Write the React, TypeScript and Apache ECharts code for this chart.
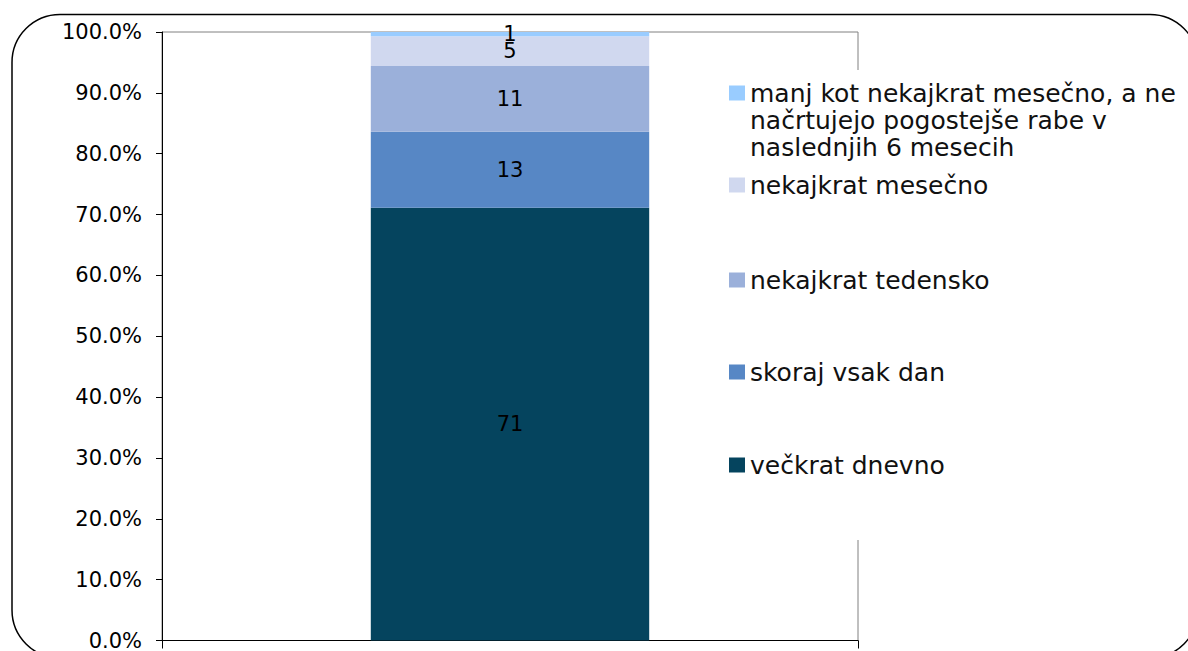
import { useEffect, useRef } from "react";
import * as echarts from "echarts";

const categories = [""];
const seriesNames = [
  "večkrat dnevno",
  "skoraj vsak dan",
  "nekajkrat tedensko",
  "nekajkrat mesečno",
  "manj kot nekajkrat mesečno, a ne načrtujejo pogostejše rabe v naslednjih 6 mesecih",
];
const seriesValues = [71.1, 12.5, 10.8, 4.9, 0.7];
const labelValues = [71, 13, 11, 5, 1];
const seriesColors = ["#05445E", "#5787C5", "#9BB0DA", "#D0D8EF", "#99CCFF"];
const legendLabels = [
  "večkrat dnevno",
  "skoraj vsak dan",
  "nekajkrat tedensko",
  "nekajkrat mesečno",
  "manj kot nekajkrat mesečno, a ne\nnačrtujejo pogostejše rabe v\nnaslednjih 6 mesecih",
];
const yMin = 0;
const yMax = 100;
const yInterval = 10;

const FONT = "DejaVu Sans";

export default function App() {
  const ref = useRef<HTMLDivElement>(null);
  useEffect(() => {
    if (!ref.current) return;
    const chart = echarts.init(ref.current, null, { renderer: "svg" });

    const legendOrder = [4, 3, 2, 1, 0];
    const legendTops = [25.5, 171.5, 266.5, 358.5, 451.5];

    const legends = legendOrder.map((idx, k) => {
      const lines = legendLabels[idx].split("\n");
      // pad with blank lines above so the marker sits beside the first line
      const text =
        lines.length > 1
          ? "\n".repeat(lines.length - 1) + legendLabels[idx]
          : legendLabels[idx];
      return {
        show: true,
        orient: "vertical",
        left: 729,
        top: legendTops[k],
        padding: 0,
        z: 20,
        selectedMode: false,
        icon: "rect",
        itemWidth: 16,
        itemHeight: 15,
        data: [seriesNames[idx]],
        formatter: () => text,
        textStyle: {
          fontFamily: FONT,
          fontSize: 25,
          lineHeight: 27,
          color: "#111",
        },
      };
    });

    chart.setOption({
      animation: false,
      backgroundColor: "#fff",
      grid: {
        left: 162,
        top: 32,
        right: 330,
        bottom: 10,
        show: true,
        borderColor: "#808080",
        borderWidth: 1,
        backgroundColor: "transparent",
      },
      legend: legends,
      xAxis: {
        type: "category",
        data: categories,
        boundaryGap: true,
        axisLine: { show: true, lineStyle: { color: "#000", width: 1 } },
        axisTick: { show: true, length: 8, lineStyle: { color: "#000" } },
        axisLabel: { show: false },
      },
      yAxis: {
        type: "value",
        min: yMin,
        max: yMax,
        interval: yInterval,
        axisLine: { show: true, lineStyle: { color: "#000", width: 1 } },
        axisTick: { show: true, length: 6, lineStyle: { color: "#000" } },
        splitLine: { show: false },
        axisLabel: {
          margin: 20,
          fontFamily: FONT,
          fontSize: 21,
          color: "#000",
          formatter: (v: number) => v.toFixed(1) + "%",
        },
      },
      graphic: [
        {
          type: "rect",
          z: 10,
          shape: { x: 715, y: 70, width: 480, height: 470 },
          style: { fill: "#fff", stroke: "none" },
          silent: true,
        },
        {
          type: "rect",
          z: 30,
          shape: { x: 12, y: 14.5, width: 1186, height: 643.5, r: 48 },
          style: { fill: "none", stroke: "#000", lineWidth: 1.5 },
          silent: true,
        },
      ],
      series: seriesNames.map((name, i) => ({
        name,
        type: "bar",
        stack: "total",
        barWidth: "40%",
        data: [seriesValues[i]],
        itemStyle: { color: seriesColors[i] },
        label: {
          show: true,
          position: "inside",
          fontFamily: FONT,
          fontSize: 21,
          color: "#000",
          formatter: () => String(labelValues[i]),
        },
        emphasis: { disabled: true },
      })),
    });
    return () => chart.dispose();
  }, []);
  return (
    <div
      ref={ref}
      style={{ position: "fixed", left: 0, top: 0, width: 1188, height: 651 }}
    />
  );
}
